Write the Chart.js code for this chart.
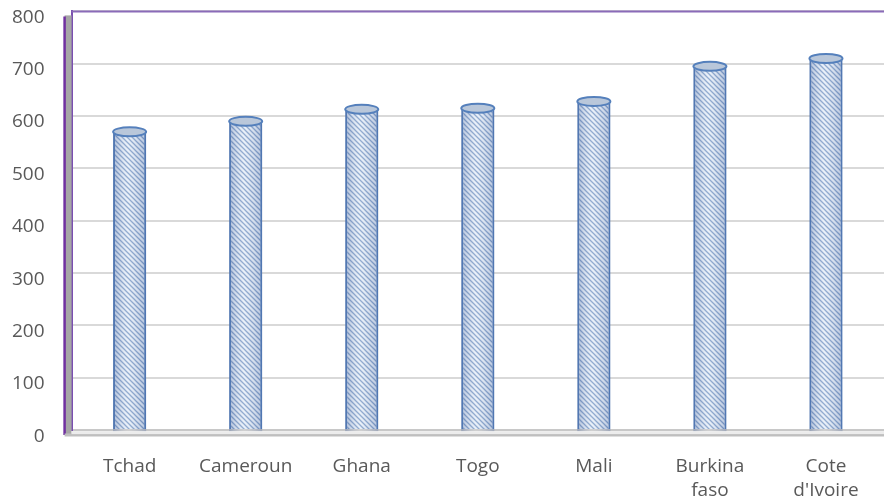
<!DOCTYPE html>
<html>
<head>
<meta charset="utf-8">
<script src="https://cdn.jsdelivr.net/npm/chart.js@4/dist/chart.umd.min.js"></script>
<style>
  html, body { margin: 0; padding: 0; background: #ffffff; }
  #wrap { width: 884px; height: 504px; }
</style>
</head>
<body>
<div id="wrap"><canvas id="chart" width="884" height="504"></canvas></div>
<script>
// data
const countries = ['Tchad', 'Cameroun', 'Ghana', 'Togo', 'Mali', ['Burkina', 'faso'], ['Cote', "d'Ivoire"]];
const values = [570, 590, 613, 615, 628, 695, 710];
const yTicks = [0, 100, 200, 300, 400, 500, 600, 700, 800];

// diagonal striped fill like the office pattern
function makeStripes() {
    const c = document.createElement('canvas');
    c.width = 5;
    c.height = 5;
    const g = c.getContext('2d');
    g.fillStyle = '#e6eef8';
    g.fillRect(0, 0, 5, 5);
    g.strokeStyle = '#809ec9';
    g.lineWidth = 1.3;
    g.beginPath();
    g.moveTo(-1, -1); g.lineTo(6, 6);
    g.moveTo(-4, 1); g.lineTo(3, 8);
    g.moveTo(1, -4); g.lineTo(8, 3);
    g.stroke();
    return g.createPattern(c, 'repeat');
}

const ctx = document.getElementById('chart');

// walls, floor, purple edges and the cylinder tops
const decor = {
    id: 'decor',
    beforeDatasetsDraw(chart) {
        const a = chart.chartArea;
        const c = chart.ctx;
        c.save();
        // side wall
        c.fillStyle = '#a6a6a6';
        c.fillRect(a.left - 7, a.top + 4, 7, a.bottom - a.top);
        c.strokeStyle = '#7030a0';
        c.lineWidth = 2.5;
        c.beginPath();
        c.moveTo(a.left - 7, a.top + 5);
        c.lineTo(a.left - 7, a.bottom + 5);
        c.stroke();
        // floor front edge
        c.strokeStyle = '#bfbfbf';
        c.lineWidth = 3;
        c.beginPath();
        c.moveTo(a.left - 7, a.bottom + 5);
        c.lineTo(a.right, a.bottom + 5);
        c.stroke();
        c.fillStyle = '#ececec';
        c.fillRect(a.left, a.bottom + 1, a.right - a.left, 3);
        // top edge of back wall
        c.strokeStyle = '#8a6bb8';
        c.lineWidth = 2;
        c.beginPath();
        c.moveTo(a.left, a.top);
        c.lineTo(a.right, a.top);
        c.stroke();
        c.restore();
    },
    afterDatasetsDraw(chart) {
        const c = chart.ctx;
        const meta = chart.getDatasetMeta(0);
        c.save();
        meta.data.forEach(bar => {
            const w = bar.width / 2;
            // cylinder shading
            const gr = c.createLinearGradient(bar.x - w, 0, bar.x + w, 0);
            gr.addColorStop(0, 'rgba(60,90,150,0.35)');
            gr.addColorStop(0.45, 'rgba(255,255,255,0.15)');
            gr.addColorStop(1, 'rgba(60,90,150,0.30)');
            c.fillStyle = gr;
            c.fillRect(bar.x - w, bar.y, w * 2, bar.base - bar.y + 2);
            // top cap
            c.fillStyle = '#b9c7da';
            c.strokeStyle = '#5580bc';
            c.lineWidth = 2;
            c.beginPath();
            c.ellipse(bar.x, bar.y, w, 4.5, 0, 0, Math.PI * 2);
            c.fill();
            c.stroke();
        });
        c.restore();
    }
};

new Chart(ctx, {
    type: 'bar',
    data: {
        labels: countries,
        datasets: [{
            data: values,
            backgroundColor: makeStripes(),
            borderColor: '#5580bc',
            borderWidth: { left: 2, right: 2, top: 0, bottom: 0 },
            borderSkipped: false,
            barPercentage: 0.285,
            categoryPercentage: 1
        }]
    },
    options: {
        responsive: false,
        animation: false,
        layout: { padding: { left: 12, right: 0, top: 0, bottom: 0 } },
        plugins: {
            legend: { display: false },
            tooltip: { enabled: false }
        },
        scales: {
            x: {
                grid: { display: false, drawTicks: true, tickLength: 24, tickColor: 'rgba(0,0,0,0)' },
                border: { color: '#c8c8c8', width: 2 },
                ticks: {
                    color: '#595959',
                    padding: 1,
                    maxRotation: 0,
                    font: { family: 'Open Sans', size: 19, lineHeight: 1.26 }
                }
            },
            y: {
                min: 0,
                max: 800,
                afterBuildTicks: axis => { axis.ticks = yTicks.map(v => ({ value: v })); },
                grid: {
                    color: '#d9d9d9',
                    lineWidth: 2,
                    drawTicks: true,
                    tickLength: 27,
                    tickColor: 'rgba(0,0,0,0)'
                },
                border: { color: '#7a4fb0', width: 2 },
                ticks: {
                    color: '#595959',
                    padding: 0,
                    labelOffset: 6,
                    font: { family: 'Open Sans', size: 19, lineHeight: 1.2 }
                }
            }
        }
    },
    plugins: [decor]
});
</script>
</body>
</html>
